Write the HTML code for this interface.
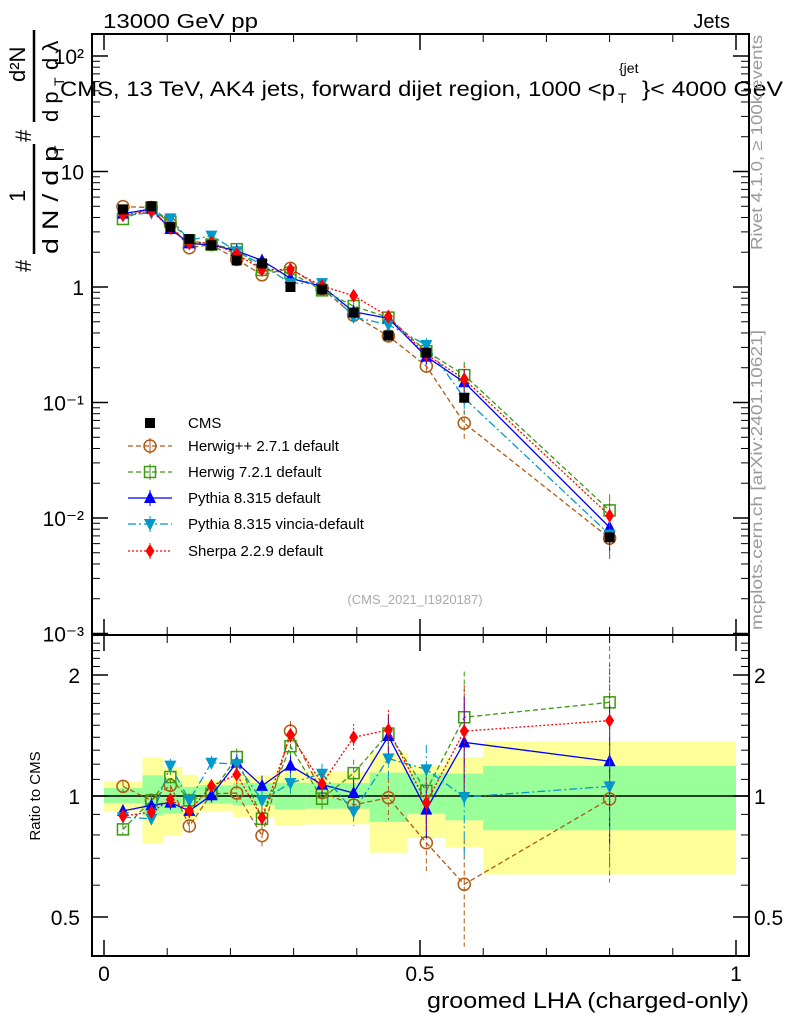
<!DOCTYPE html>
<html><head><meta charset="utf-8"><style>
body{margin:0;background:#fff}
svg{display:block;font-family:"Liberation Sans",sans-serif}
</style></head><body>
<svg id="c" width="786" height="1024" viewBox="0 0 786 1024" xmlns="http://www.w3.org/2000/svg">
<g id="bands"></g>
<g id="marks"></g>
<g id="axes"></g>
<text x="103" y="28" font-size="20" textLength="155" lengthAdjust="spacingAndGlyphs">13000 GeV pp</text>
<text x="730" y="28" font-size="20" text-anchor="end">Jets</text>
<g font-size="21">
<text x="60" y="96" textLength="555" lengthAdjust="spacingAndGlyphs">CMS, 13 TeV, AK4 jets, forward dijet region, 1000 &lt;p</text>
<text x="619" y="73" font-size="14">{jet</text>
<text x="618" y="103" font-size="14">T</text>
<text x="642" y="96" textLength="141" lengthAdjust="spacingAndGlyphs">}&lt; 4000 GeV</text>
</g>
<text transform="translate(762,250) rotate(-90)" font-size="16" fill="#999" textLength="215" lengthAdjust="spacingAndGlyphs">Rivet 4.1.0, ≥ 100k events</text>
<text transform="translate(762,630) rotate(-90)" font-size="16" fill="#999" textLength="300" lengthAdjust="spacingAndGlyphs">mcplots.cern.ch [arXiv:2401.10621]</text>
<text x="415" y="604" font-size="13" fill="#aaa" text-anchor="middle">(CMS_2021_I1920187)</text>
<g transform="translate(31,272) rotate(-90)" font-size="22">
<text x="0" y="0">#</text>
<text x="70" y="-6">1</text>
<line x1="18" y1="3" x2="128" y2="3" stroke="#000" stroke-width="2.5"/>
<text x="18" y="27" textLength="108" lengthAdjust="spacingAndGlyphs">d N / d p</text>
<text x="118" y="33" font-size="14">T</text>
<text x="130" y="0">#</text>
<text x="190" y="-6">d²N</text>
<line x1="150" y1="3" x2="242" y2="3" stroke="#000" stroke-width="2.5"/>
<text x="150" y="27">d p</text>
<text x="186" y="33" font-size="14">T</text>
<text x="202" y="27">d λ</text>
</g>
<text transform="translate(40,796) rotate(-90)" font-size="15" text-anchor="middle">Ratio to CMS</text>
<text x="749" y="1008" font-size="22" text-anchor="end" textLength="322" lengthAdjust="spacingAndGlyphs">groomed LHA (charged-only)</text>
<g id="legend"></g>
</svg>
<script>
const xCenters=[0.03,0.075,0.105,0.135,0.17,0.21,0.25,0.295,0.345,0.395,0.45,0.51,0.57,0.8];
const cmsVals=[4.7,5.0,3.3,2.6,2.3,1.7,1.6,1.0,0.95,0.6,0.38,0.27,0.11,0.0068];
const herwigppRatio=[1.057,0.975,1.063,0.842,1.013,1.017,0.797,1.45,1.02,0.95,0.99,0.765,0.603,0.983];
const herwig7Ratio=[0.826,0.975,1.115,0.975,1.013,1.25,0.878,1.33,0.985,1.14,1.43,1.03,1.57,1.71];
const pythiaRatio=[0.918,0.948,0.963,0.918,1.004,1.21,1.06,1.19,1.067,1.017,1.41,0.925,1.36,1.22];
const vinciaRatio=[0.886,0.878,1.19,0.975,1.21,1.2,0.975,1.077,1.136,0.916,1.24,1.165,0.994,1.057];
const sherpaRatio=[0.892,0.912,0.979,0.918,1.059,1.13,0.883,1.42,1.073,1.40,1.46,0.963,1.45,1.54];
const mcRelErr=[0.03,0.04,0.04,0.04,0.04,0.05,0.06,0.06,0.06,0.08,0.12,0.15,0.3,0.38];
const bandEdges=[0,0.061,0.094,0.124,0.149,0.204,0.27,0.32,0.42,0.48,0.54,0.6,1.0];
const greenUp=[1.047,1.126,1.084,1.053,1.063,1.077,1.079,1.077,1.143,1.137,1.137,1.188];
const greenDn=[0.961,0.895,0.904,0.939,0.957,0.948,0.925,0.930,0.862,0.904,0.870,0.822];
const yellowUp=[1.088,1.246,1.181,1.130,1.094,1.126,1.158,1.154,1.282,1.188,1.250,1.367];
const yellowDn=[0.918,0.761,0.798,0.870,0.918,0.887,0.845,0.850,0.723,0.786,0.744,0.638];
const mainTicks=["10²","10","1","10⁻¹","10⁻²","10⁻³"];
const ratioTicks=[2,1,0.5];
const xTicks=[0,0.5,1];

const NS="http://www.w3.org/2000/svg";
const X0=92,X1=749,Y0=34,YM=635,YR=956;
const sx=v=>104+v*632;
const sy=v=>287-Math.log10(v)*115.5;
const sr=v=>796-Math.log2(v)*121;
function mk(tag,attrs,parent){const e=document.createElementNS(NS,tag);for(const k in attrs)e.setAttribute(k,attrs[k]);parent.appendChild(e);return e;}
const bands=document.getElementById('bands'),marks=document.getElementById('marks'),axes=document.getElementById('axes'),legend=document.getElementById('legend');

for(let i=0;i<greenUp.length;i++){
  const x1=sx(bandEdges[i]),x2=sx(bandEdges[i+1]);
  const y=mk('rect',{x:x1,y:sr(yellowUp[i]),width:x2-x1,height:sr(yellowDn[i])-sr(yellowUp[i]),fill:'#ffff99'},bands);
  
  
  const g=mk('rect',{x:x1,y:sr(greenUp[i]),width:x2-x1,height:sr(greenDn[i])-sr(greenUp[i]),fill:'#99ff99'},bands);
  
  
}
mk('line',{x1:X0,x2:X1,y1:sr(1),y2:sr(1),stroke:'#000','stroke-width':1.5},bands);

function marker(type,x,y,col,parent){
  const s=5;
  if(type==='sq') return mk('rect',{x:x-s,y:y-s,width:2*s,height:2*s,fill:'#000'},parent);
  if(type==='osq') return mk('rect',{x:x-5.5,y:y-5.5,width:11,height:11,fill:'none',stroke:col,'stroke-width':1.5},parent);
  if(type==='oc') return mk('circle',{cx:x,cy:y,r:6,fill:'none',stroke:col,'stroke-width':1.5},parent);
  if(type==='tu') return mk('polygon',{points:`${x},${y-7} ${x-6},${y+5} ${x+6},${y+5}`,fill:col},parent);
  if(type==='td') return mk('polygon',{points:`${x},${y+7} ${x-6},${y-5} ${x+6},${y-5}`,fill:col},parent);
  if(type==='di') return mk('polygon',{points:`${x},${y-7} ${x-4.5},${y} ${x},${y+7} ${x+4.5},${y}`,fill:col},parent);
}
const series=[
 {name:'Herwig++ 2.7.1 default',r:herwigppRatio,col:'#b05a14',dash:'5,3',m:'oc',id:'herwigpp'},
 {name:'Herwig 7.2.1 default',r:herwig7Ratio,col:'#3a9a10',dash:'5,3',m:'osq',id:'herwig7'},
 {name:'Pythia 8.315 default',r:pythiaRatio,col:'#0000ff',dash:'',m:'tu',id:'pythia'},
 {name:'Pythia 8.315 vincia-default',r:vinciaRatio,col:'#0099cc',dash:'8,3,2,3',m:'td',id:'vincia'},
 {name:'Sherpa 2.2.9 default',r:sherpaRatio,col:'#ff0000',dash:'2,2',m:'di',id:'sherpa'}
];
series.forEach(s=>{
  const g=mk('g',{},marks);
  
  
  const vals=s.r.map((r,i)=>r*cmsVals[i]);
  mk('polyline',{points:vals.map((v,i)=>sx(xCenters[i])+','+sy(v)).join(' '),fill:'none',stroke:s.col,'stroke-width':1.3,'stroke-dasharray':s.dash},g);
  mk('polyline',{points:s.r.map((v,i)=>sx(xCenters[i])+','+sr(v)).join(' '),fill:'none',stroke:s.col,'stroke-width':1.3,'stroke-dasharray':s.dash},g);
  vals.forEach((v,i)=>{
    const x=sx(xCenters[i]),e=mcRelErr[i];
    mk('line',{x1:x,x2:x,y1:sy(v*(1+e)),y2:sy(v*(1-e)),stroke:s.col,'stroke-width':1,'stroke-dasharray':s.dash},g);
    mk('line',{x1:x,x2:x,y1:sr(s.r[i]*(1+e)),y2:sr(Math.max(0.41,s.r[i]*(1-e))),stroke:s.col,'stroke-width':1,'stroke-dasharray':s.dash},g);
    const p=marker(s.m,x,sy(v),s.col,g);
    
    
    const q=marker(s.m,x,sr(s.r[i]),s.col,g);
    
    
  });
});
cmsVals.forEach((v,i)=>{
  const p=marker('sq',sx(xCenters[i]),sy(v),'#000',marks);
  
  
});

[[Y0,YM],[YM,YR]].forEach(([a,b])=>mk('rect',{x:X0,y:a,width:X1-X0,height:b-a,fill:'none',stroke:'#000','stroke-width':2},axes));
mainTicks.forEach((t,k)=>{
  const d=2-k;
  const y=sy(Math.pow(10,d));
  mk('line',{x1:X0,x2:X0+16,y1:y,y2:y,stroke:'#000','stroke-width':1.5},axes);
  mk('line',{x1:X1-16,x2:X1,y1:y,y2:y,stroke:'#000','stroke-width':1.5},axes);
  const tx=mk('text',{x:84,y:y+8,'font-size':21,'text-anchor':'end'},axes);tx.textContent=t;
  
  
  for(let m=2;m<10;m++){const yy=sy(m*Math.pow(10,d-1));if(yy<Y0||yy>YM)continue;
    mk('line',{x1:X0,x2:X0+8,y1:yy,y2:yy,stroke:'#000'},axes);mk('line',{x1:X1-8,x2:X1,y1:yy,y2:yy,stroke:'#000'},axes);}
});
for(let m=1;m<10;m++){const yy=sy(m*100);if(yy>=Y0){mk('line',{x1:X0,x2:X0+8,y1:yy,y2:yy,stroke:'#000'},axes);mk('line',{x1:X1-8,x2:X1,y1:yy,y2:yy,stroke:'#000'},axes);}}
ratioTicks.forEach(t=>{
  const y=sr(t);
  mk('line',{x1:X0,x2:X0+16,y1:y,y2:y,stroke:'#000','stroke-width':1.5},axes);
  mk('line',{x1:X1-16,x2:X1,y1:y,y2:y,stroke:'#000','stroke-width':1.5},axes);
  const a=mk('text',{x:80,y:y+8,'font-size':21,'text-anchor':'end'},axes);a.textContent=t;
  
  
  const b=mk('text',{x:754,y:y+8,'font-size':21},axes);b.textContent=t;
  
  
});
[0.4,0.6,0.7,0.8,0.9,1.1,1.2,1.3,1.4,1.5,1.6,1.7,1.8,1.9,2.1,2.2,2.3,2.4].forEach(t=>{const y=sr(t);
  mk('line',{x1:X0,x2:X0+8,y1:y,y2:y,stroke:'#000'},axes);mk('line',{x1:X1-8,x2:X1,y1:y,y2:y,stroke:'#000'},axes);});
for(let k=0;k<=10;k++){const x=sx(k/10),L=(k%5===0)?16:8;
  [[Y0,1],[YM,1],[YM,-1],[YR,-1]].forEach(([y,dir])=>mk('line',{x1:x,x2:x,y1:y,y2:y+dir*L,stroke:'#000','stroke-width':k%5===0?1.5:1},axes));}
xTicks.forEach(t=>{const a=mk('text',{x:sx(t),y:981,'font-size':21,'text-anchor':'middle'},axes);a.textContent=t;
  
  });

const leg=[{name:'CMS',m:'sq',col:'#000',dash:null}].concat(series);
const ly=[423,446,472,498,524,551];
leg.forEach((s,i)=>{
  const g=mk('g',{},legend);
  
  
  const y=ly[i];
  if(s.dash!==null){mk('line',{x1:128,x2:172,y1:y,y2:y,stroke:s.col,'stroke-width':1.3,'stroke-dasharray':s.dash},g);
    mk('line',{x1:150,x2:150,y1:y-8,y2:y+8,stroke:s.col,'stroke-width':1},g);}
  marker(s.m,150,y,s.col,g);
  const t=mk('text',{x:188,y:y+5,'font-size':15},g);t.textContent=s.name;
});
</script>
</body></html>
